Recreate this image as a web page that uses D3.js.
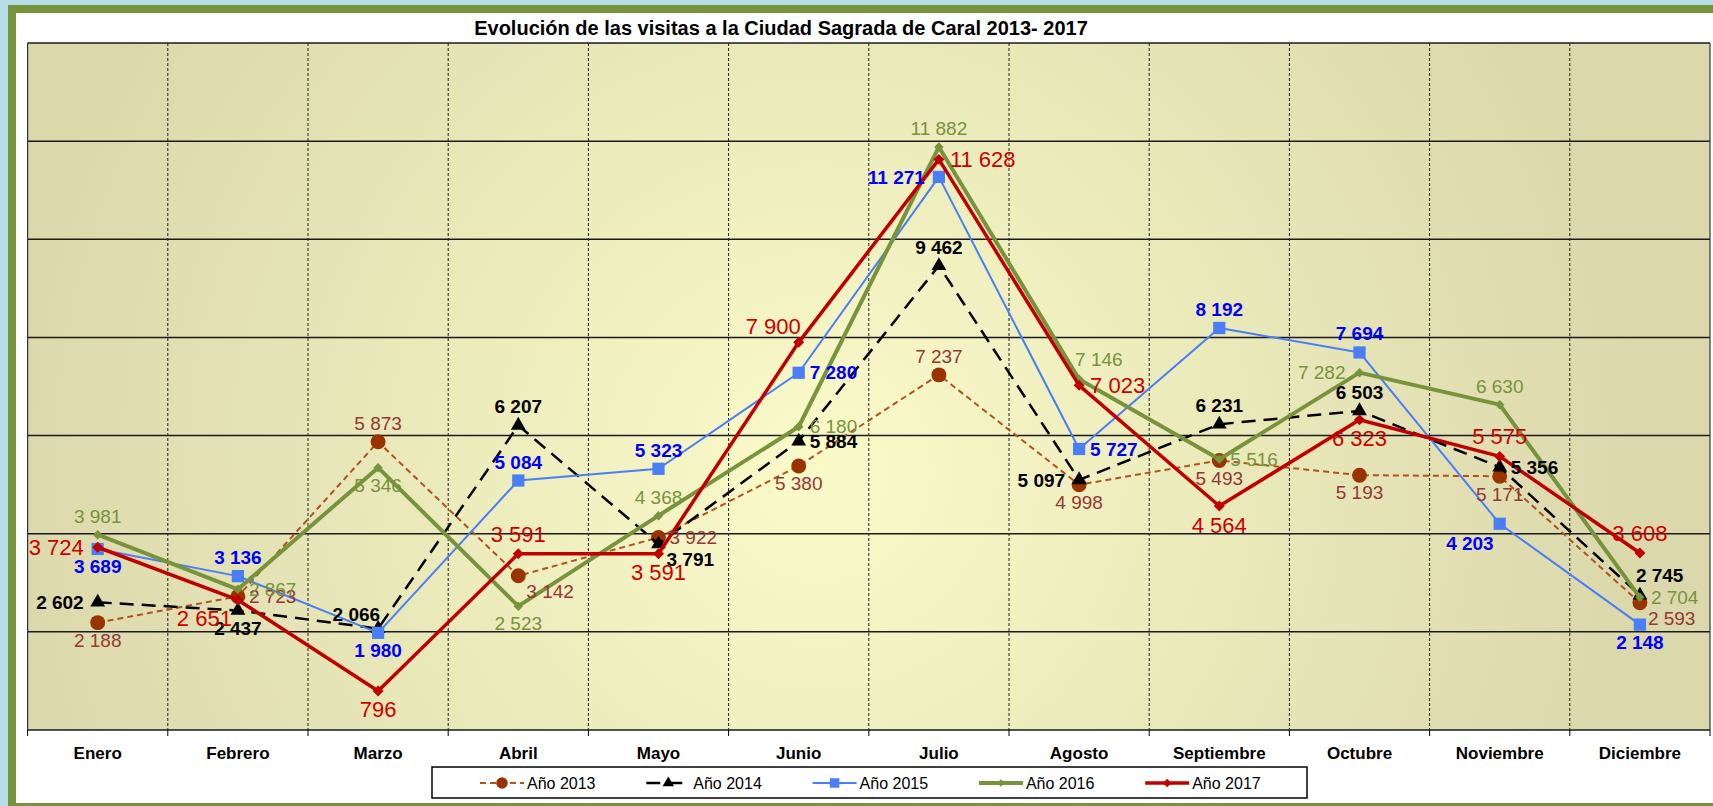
<!DOCTYPE html>
<html lang="es">
    <head>
        <meta charset="utf-8">
        <title>Evolución de las visitas a la Ciudad Sagrada de Caral</title>
        <script type="text/javascript" src="https://cdn.jsdelivr.net/npm/d3@7"></script>
        <style>
            body { margin: 0; background: #b7dde8; }
            svg { display: block; }
        </style>
    </head>
    <body>
        <script type="text/javascript">

            // data
            var months = ["Enero", "Febrero", "Marzo", "Abril", "Mayo", "Junio", "Julio",
                          "Agosto", "Septiembre", "Octubre", "Noviembre", "Diciembre"];
            var yearNames = ["Año 2013", "Año 2014", "Año 2015", "Año 2016", "Año 2017"];

            var v2013 = [2188, 2723, 5873, 3142, 3922, 5380, 7237, 4998, 5493, 5193, 5171, 2593];
            var v2014 = [2602, 2437, 2066, 6207, 3791, 5884, 9462, 5097, 6231, 6503, 5356, 2745];
            var v2015 = [3689, 3136, 1980, 5084, 5323, 7280, 11271, 5727, 8192, 7694, 4203, 2148];
            var v2016 = [3981, 2867, 5346, 2523, 4368, 6180, 11882, 7146, 5516, 7282, 6630, 2704];
            var v2017 = [3724, 2651, 796, 3591, 3591, 7900, 11628, 7023, 4564, 6323, 5575, 3608];

            var yTicks = [0, 2000, 4000, 6000, 8000, 10000, 12000, 14000];

            // where each data label sits relative to its point
            var pos2013 = ["b", "r", "t", "br", "r", "b", "t", "b", "b", "b", "b", "br"];
            var pos2014 = ["l", "b", "tl", "t", "br", "r", "t", "l", "t", "t", "r", "tr"];
            var pos2015 = ["b", "t", "b", "t", "t", "r", "l", "r", "t", "t", "bl", "b"];
            var pos2016 = ["t", "r", "b", "b", "t", "r", "t", "tr", "r", "l", "t", "r"];
            var pos2017 = ["l", "bl", "b", "t", "b", "tl", "r", "r", "b", "b", "t", "t"];

            var w = 1713;
            var h = 806;
            var font = "Arial, 'Liberation Sans', sans-serif";

            var series = [
                {name: yearNames[0], values: v2013, pos: pos2013, line: "#b0541e", mark: "#993300", label: "#953735",
                 width: 2, dash: "6,4", symbol: d3.symbolCircle, size: 175, rot: 0, fs: 19, weight: "normal"},
                {name: yearNames[1], values: v2014, pos: pos2014, line: "#000000", mark: "#000000", label: "#000000",
                 width: 2.5, dash: "14,8", symbol: d3.symbolTriangle, size: 95, rot: 0, fs: 19, weight: "bold"},
                {name: yearNames[2], values: v2015, pos: pos2015, line: "#4a7ef7", mark: "#4a7ef7", label: "#0000ff",
                 width: 2, dash: null, symbol: d3.symbolSquare, size: 150, rot: 0, fs: 19, weight: "bold"},
                {name: yearNames[3], values: v2016, pos: pos2016, line: "#77933c", mark: "#77933c", label: "#77933c",
                 width: 4, dash: null, symbol: d3.symbolSquare, size: 45, rot: 45, fs: 19, weight: "normal"},
                {name: yearNames[4], values: v2017, pos: pos2017, line: "#c00000", mark: "#c00000", label: "#cc0000",
                 width: 3.5, dash: null, symbol: d3.symbolSquare, size: 60, rot: 45, fs: 22, weight: "normal"}
            ];

            var svg = d3.select("body")
                .append("svg")
                .attr("width", w)
                .attr("height", h);

            // green frame and white chart area
            svg.append("rect")
                .attr("x", 12)
                .attr("y", 9)
                .attr("width", w + 20)
                .attr("height", 798)
                .attr("fill", "#ffffff")
                .attr("stroke", "#77933c")
                .attr("stroke-width", 8);

            var plot = {left: 27.6, right: 1710, top: 43, bottom: 730};

            var x = d3.scaleBand()
                .domain(months)
                .range([plot.left, plot.right])
                .padding(0);

            var y = d3.scaleLinear()
                .domain([0, 14000])
                .range([plot.bottom, plot.top]);

            // plot background
            var defs = svg.append("defs");
            var grad = defs.append("radialGradient")
                .attr("id", "bg")
                .attr("gradientUnits", "userSpaceOnUse")
                .attr("cx", 820)
                .attr("cy", 470)
                .attr("r", 820);
            grad.append("stop").attr("offset", "0%").attr("stop-color", "#fbfac9");
            grad.append("stop").attr("offset", "45%").attr("stop-color", "#ecebbc");
            grad.append("stop").attr("offset", "100%").attr("stop-color", "#dbd9ac");

            svg.append("rect")
                .attr("x", plot.left)
                .attr("y", plot.top)
                .attr("width", plot.right - plot.left)
                .attr("height", plot.bottom - plot.top)
                .attr("fill", "url(#bg)");

            // horizontal grid
            svg.selectAll("line.hgrid")
                .data(yTicks)
                .enter()
                .append("line")
                .attr("class", "hgrid")
                .attr("x1", plot.left)
                .attr("x2", plot.right)
                .attr("y1", function(d) { return y(d); })
                .attr("y2", function(d) { return y(d); })
                .attr("stroke", "#1a1a1a")
                .attr("stroke-width", 1.5);

            // vertical dashed grid between months
            svg.selectAll("line.vgrid")
                .data(months.slice(1))
                .enter()
                .append("line")
                .attr("class", "vgrid")
                .attr("x1", function(d) { return x(d); })
                .attr("x2", function(d) { return x(d); })
                .attr("y1", plot.top)
                .attr("y2", plot.bottom)
                .attr("stroke", "#222")
                .attr("stroke-width", 1)
                .attr("stroke-dasharray", "3,2");

            // plot border sides
            svg.append("line")
                .attr("x1", plot.left).attr("x2", plot.left)
                .attr("y1", plot.top).attr("y2", plot.bottom)
                .attr("stroke", "#333").attr("stroke-width", 1.2);
            svg.append("line")
                .attr("x1", plot.right).attr("x2", plot.right)
                .attr("y1", plot.top).attr("y2", plot.bottom)
                .attr("stroke", "#333").attr("stroke-width", 1.2);

            // x axis with ticks at the month boundaries
            var xAxis = d3.axisBottom(x).tickSize(0).tickPadding(0);
            var gx = svg.append("g")
                .attr("transform", "translate(0," + plot.bottom + ")")
                .call(xAxis);
            gx.select(".domain").remove();
            gx.selectAll("text")
                .attr("y", 29)
                .attr("dy", 0)
                .attr("font-family", font)
                .attr("font-weight", "bold")
                .attr("font-size", 17)
                .attr("fill", "#000");

            svg.selectAll("line.xtick")
                .data(months.concat(["end"]))
                .enter()
                .append("line")
                .attr("class", "xtick")
                .attr("x1", function(d, i) { return plot.left + i * x.bandwidth(); })
                .attr("x2", function(d, i) { return plot.left + i * x.bandwidth(); })
                .attr("y1", plot.bottom)
                .attr("y2", plot.bottom + 6)
                .attr("stroke", "#000")
                .attr("stroke-width", 1);

            function cx(i) {
                return x(months[i]) + x.bandwidth() / 2;
            }

            // lines and markers
            series.forEach(function(s) {
                var line = d3.line()
                    .x(function(d, i) { return cx(i); })
                    .y(function(d) { return y(d); });

                svg.append("path")
                    .datum(s.values)
                    .attr("d", line)
                    .attr("fill", "none")
                    .attr("stroke", s.line)
                    .attr("stroke-width", s.width)
                    .attr("stroke-dasharray", s.dash)
                    .attr("stroke-linejoin", "round");

                svg.selectAll(null)
                    .data(s.values)
                    .enter()
                    .append("path")
                    .attr("d", d3.symbol().type(s.symbol).size(s.size))
                    .attr("transform", function(d, i) {
                        return "translate(" + cx(i) + "," + y(d) + ") rotate(" + s.rot + ")";
                    })
                    .attr("fill", s.mark);
            });

            // data labels
            function labelPos(p, px, py, fs) {
                if (p == "t") return [px, py - 12, "middle"];
                if (p == "b") return [px, py + 10 + 0.75 * fs, "middle"];
                if (p == "r") return [px + 11, py + 0.35 * fs, "start"];
                if (p == "l") return [px - 14, py + 0.35 * fs, "end"];
                if (p == "tr") return [px - 4, py - 13, "start"];
                if (p == "tl") return [px + 2, py - 8, "end"];
                if (p == "br") return [px + 8, py + 22, "start"];
                return [px - 6, py + 26, "end"];
            }

            series.forEach(function(s) {
                svg.selectAll(null)
                    .data(s.values)
                    .enter()
                    .append("text")
                    .text(function(d) { return d3.format(",")(d).replace(",", " "); })
                    .each(function(d, i) {
                        var p = labelPos(s.pos[i], cx(i), y(d), s.fs);
                        d3.select(this)
                            .attr("x", p[0])
                            .attr("y", p[1])
                            .attr("text-anchor", p[2]);
                    })
                    .attr("font-family", font)
                    .attr("font-size", s.fs)
                    .attr("font-weight", s.weight)
                    .attr("fill", s.label);
            });

            // title
            svg.append("text")
                .text("Evolución de las visitas a la Ciudad Sagrada de Caral 2013- 2017")
                .attr("x", 781)
                .attr("y", 35)
                .attr("text-anchor", "middle")
                .attr("font-family", font)
                .attr("font-weight", "bold")
                .attr("font-size", 20)
                .attr("fill", "#000");

            // legend
            var legend = svg.append("g");
            legend.append("rect")
                .attr("x", 432)
                .attr("y", 767)
                .attr("width", 875)
                .attr("height", 31)
                .attr("fill", "#ffffff")
                .attr("stroke", "#000")
                .attr("stroke-width", 1.5);

            var items = legend.selectAll("g.item")
                .data(series)
                .enter()
                .append("g")
                .attr("class", "item")
                .attr("transform", function(d, i) { return "translate(" + (480 + i * 166.3) + ",783)"; });

            items.append("line")
                .attr("x1", 0)
                .attr("x2", 44)
                .attr("stroke", function(d) { return d.line; })
                .attr("stroke-width", function(d) { return d.width; })
                .attr("stroke-dasharray", function(d) { return d.dash; });

            items.append("path")
                .attr("d", function(d) { return d3.symbol().type(d.symbol).size(d.size * 0.6)(); })
                .attr("transform", function(d) { return "translate(22,0) rotate(" + d.rot + ")"; })
                .attr("fill", function(d) { return d.mark; });

            items.append("text")
                .text(function(d) { return d.name; })
                .attr("x", 47)
                .attr("y", 6)
                .attr("font-family", font)
                .attr("font-size", 16)
                .attr("fill", "#000");

        </script>
    </body>
</html>
